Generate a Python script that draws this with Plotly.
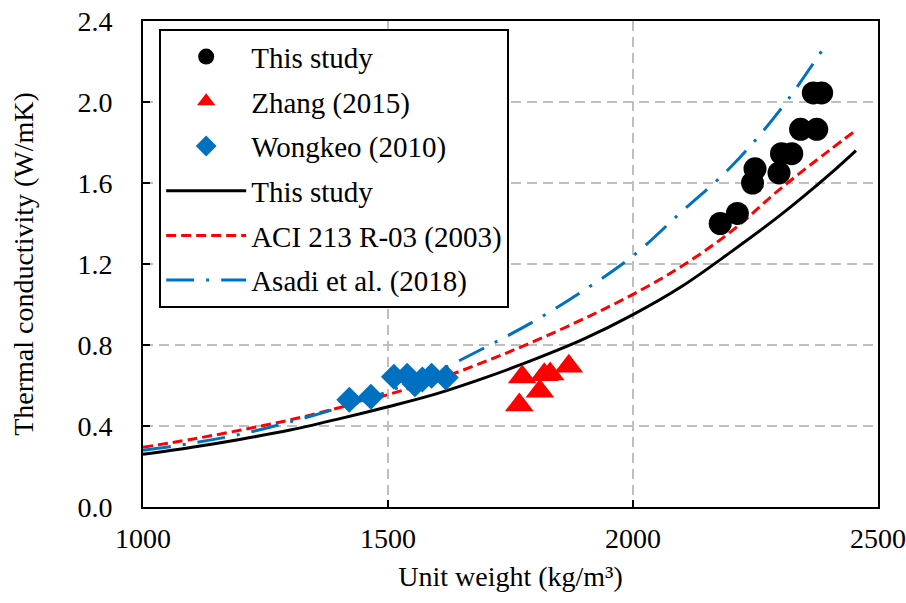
import plotly.graph_objects as go

# ---- data ----
study_w = [2178, 2213, 2244, 2249, 2298, 2303, 2324, 2342, 2375, 2368, 2385]
study_k = [1.40, 1.45, 1.60, 1.67, 1.65, 1.745, 1.745, 1.865, 1.865, 2.045, 2.045]

zhang_w = [1774, 1768, 1810, 1819, 1831, 1869]
zhang_k = [0.642, 0.504, 0.571, 0.653, 0.657, 0.695]

wong_w = [1421, 1465, 1512, 1539, 1555, 1570, 1589, 1618]
wong_k = [0.53, 0.545, 0.643, 0.648, 0.606, 0.63, 0.648, 0.64]

fit_w = [1000, 1100, 1200, 1300, 1400, 1500, 1600, 1700, 1800, 1900, 2000, 2100, 2200, 2300, 2400, 2455]
fit_study = [0.26, 0.295, 0.335, 0.38, 0.435, 0.495, 0.56, 0.64, 0.73, 0.83, 0.95, 1.09, 1.26, 1.44, 1.64, 1.76]
fit_aci = [0.295, 0.335, 0.38, 0.43, 0.49, 0.555, 0.63, 0.72, 0.82, 0.93, 1.05, 1.19, 1.36, 1.57, 1.76, 1.86]

asadi_w = [1000, 1100, 1200, 1300, 1400, 1500, 1600, 1700, 1800, 1900, 2000, 2100, 2200, 2300, 2390]
asadi_k = [0.28, 0.315, 0.36, 0.42, 0.49, 0.57, 0.67, 0.79, 0.92, 1.07, 1.24, 1.46, 1.68, 1.96, 2.27]

x_ticks = [1000, 1500, 2000, 2500]
y_ticks = [0.0, 0.4, 0.8, 1.2, 1.6, 2.0, 2.4]

FONT = "Liberation Serif, Times New Roman, serif"
FS = 28

fig = go.Figure()

# fitted lines (drawn below markers)
fig.add_trace(go.Scatter(x=fit_w, y=fit_study, mode="lines", name="This study",
                         line=dict(color="black", width=3, shape="spline", smoothing=1.0),
                         legendgroup="d", legendrank=4))
fig.add_trace(go.Scatter(x=fit_w, y=fit_aci, mode="lines", name="ACI 213 R-03 (2003)",
                         line=dict(color="#FF0000", width=3, dash="10px,5px", shape="spline", smoothing=1.0),
                         legendgroup="e", legendrank=5))
fig.add_trace(go.Scatter(x=asadi_w, y=asadi_k, mode="lines", name="Asadi et al. (2018)",
                         line=dict(color="#0070C0", width=3, dash="28px,12px,3px,12px", shape="spline", smoothing=1.0),
                         legendgroup="f", legendrank=6))

# measured points
fig.add_trace(go.Scatter(x=study_w, y=study_k, mode="markers", name="This study",
                         marker=dict(symbol="circle", size=23, color="black"),
                         legendgroup="a", legendrank=1))
fig.add_trace(go.Scatter(x=zhang_w, y=zhang_k, mode="markers", name="Zhang (2015)",
                         marker=dict(symbol="triangle-up", size=25, color="#FF0000"),
                         legendgroup="b", legendrank=2))
fig.add_trace(go.Scatter(x=wong_w, y=wong_k, mode="markers", name="Wongkeo (2010)",
                         marker=dict(symbol="diamond", size=20, color="#0070C0"),
                         legendgroup="c", legendrank=3))

axis_common = dict(
    showline=True, linecolor="black", linewidth=2, mirror=True,
    ticks="inside", ticklen=7, tickwidth=2, tickcolor="black",
    showgrid=True, gridcolor="#BFBFBF", gridwidth=1.5, griddash="10px,6px",
    zeroline=False, automargin=False,
    tickfont=dict(family=FONT, size=FS, color="black"),
)

fig.update_xaxes(range=[1000, 2500], tickvals=x_ticks, ticktext=[str(v) for v in x_ticks],
                 ticklabelstandoff=5,
                 title=dict(text="Unit weight (kg/m³)", font=dict(family=FONT, size=FS, color="black"), standoff=14),
                 **axis_common)
fig.update_yaxes(range=[0, 2.4], tickvals=y_ticks, ticktext=[f"{v:.1f}" for v in y_ticks],
                 ticklabelstandoff=23,
                 title=dict(text="Thermal conductivity (W/mK)", font=dict(family=FONT, size=FS, color="black"), standoff=36),
                 **axis_common)

fig.update_layout(
    width=906, height=603,
    margin=dict(l=143, r=28, t=21, b=96),
    plot_bgcolor="white", paper_bgcolor="white",
    font=dict(family=FONT, size=FS, color="black"),
    legend=dict(x=0.022, y=0.983, xanchor="left", yanchor="top",
                bgcolor="white", bordercolor="black", borderwidth=2,
                font=dict(family=FONT, size=29, color="black"),
                tracegroupgap=4, itemwidth=80, traceorder="grouped"),
    showlegend=True,
)

fig.write_html("out.html")
